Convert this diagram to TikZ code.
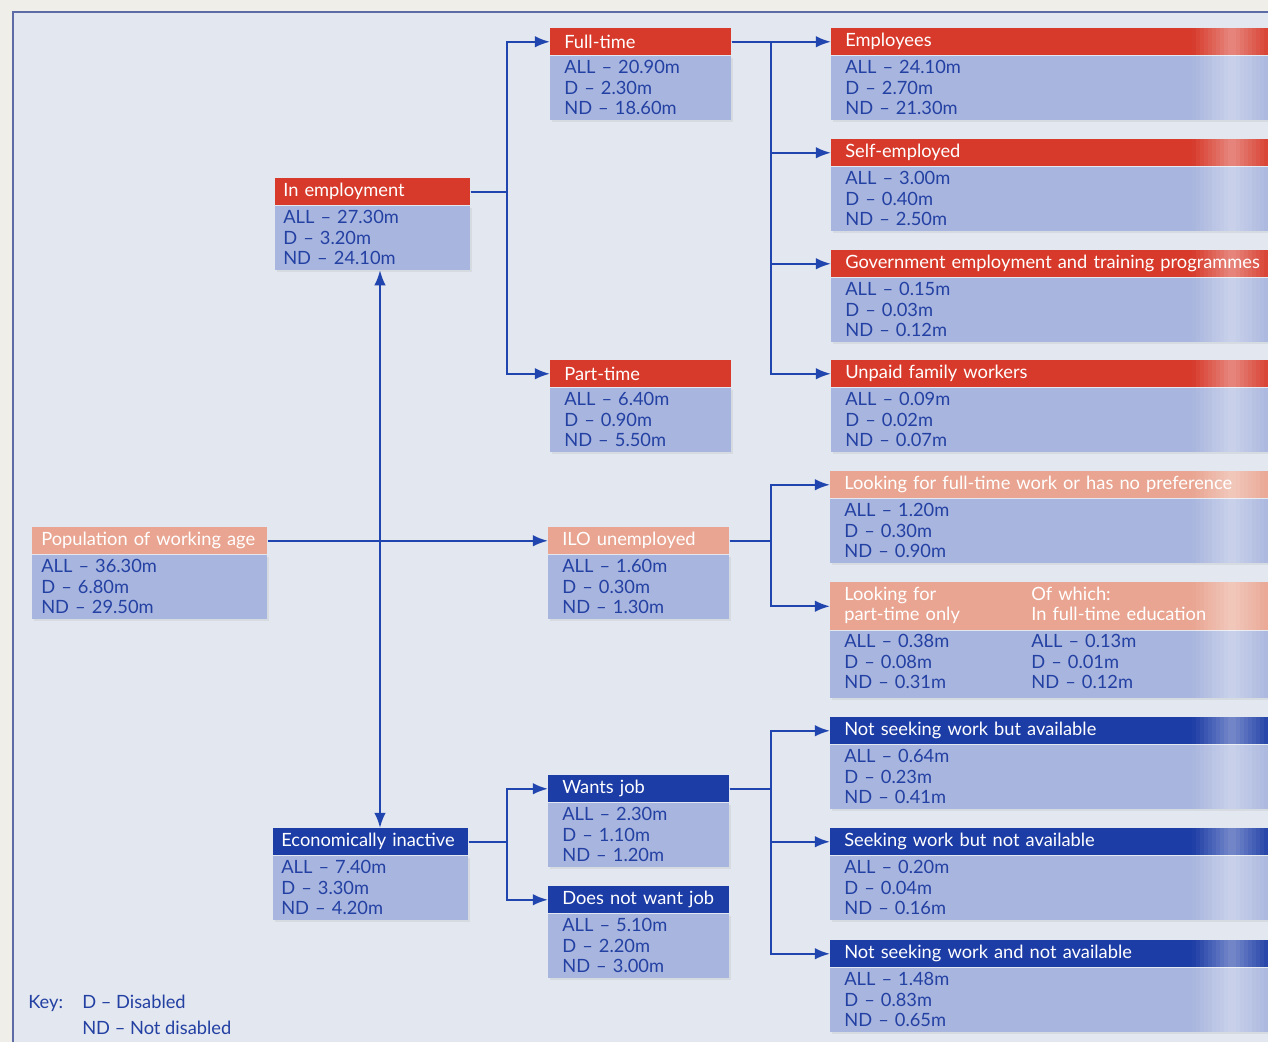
\documentclass[tikz,border=0pt]{standalone}
\usepackage{fontspec}
\setmainfont{Lato}
\usepackage{xcolor}
\usepackage{tikz}
\usetikzlibrary{positioning, arrows.meta, shadows}

\definecolor{pagebg}{HTML}{EFEEE9}
\definecolor{panelbg}{HTML}{E3E7EF}
\definecolor{framecol}{HTML}{5D6BA6}
\definecolor{hdred}{HTML}{D73A2B}
\definecolor{hdsalmon}{HTML}{E9A591}
\definecolor{hdblue}{HTML}{1C3CA6}
\definecolor{bodyblue}{HTML}{A8B5DE}
\definecolor{inkblue}{HTML}{2340A3}
\definecolor{linkblue}{HTML}{2145AE}

\newlength{\unitpx}
\setlength{\unitpx}{0.25mm}

\begin{document}
\begin{tikzpicture}[x=0.25mm, y=-0.25mm, font=\fontsize{13}{14.6}\selectfont]
        \tikzstyle{head} = [rectangle, anchor=north west, inner xsep=14\unitpx, inner ysep=0pt, minimum height=27\unitpx, text=white, align=left]
        \tikzstyle{body} = [rectangle, fill=bodyblue, text=inkblue, inner xsep=14\unitpx, inner ysep=0pt, minimum height=64\unitpx, align=left,
            drop shadow={shadow xshift=0.5mm, shadow yshift=-0.6mm, opacity=0.12}]
        \tikzstyle{colA} = [text width=217\unitpx, inner xsep=9\unitpx]
        \tikzstyle{colB} = [text width=179\unitpx, inner xsep=8\unitpx]
        \tikzstyle{colC} = [text width=153\unitpx]
        \tikzstyle{colD} = [text width=452\unitpx]
        \tikzstyle{link} = [draw=linkblue, line width=0.55mm, -{Latex[length=3.8mm, width=2.9mm]}]
        \tikzstyle{dlink} = [draw=linkblue, line width=0.55mm, {Latex[length=3.8mm, width=2.9mm]}-{Latex[length=3.8mm, width=2.9mm]}]
        \tikzstyle{keytext} = [anchor=base west, inner sep=0pt, text=inkblue]

        \useasboundingbox (0,0) rectangle (1268,1042);
        \clip (0,0) rectangle (1268,1042);
        \fill[pagebg] (0,0) rectangle (1268,1042);
        \fill[panelbg] (13,12) rectangle (1268,1042);
        \draw[framecol, line width=0.3mm] (13,1042) -- (13,12) -- (1268,12);

        % left column
        \node [head, fill=hdsalmon, colA] (pop) at (32,527) {Population of working age};
        \node [body, colA, below=0pt of pop] (pop-b) {ALL -- 36.30m\\D -- 6.80m\\ND -- 29.50m};
        \node [head, fill=hdred, colB] (inemp) at (275,178) {In employment};
        \node [body, colB, below=0pt of inemp] (inemp-b) {ALL -- 27.30m\\D -- 3.20m\\ND -- 24.10m};
        \node [head, fill=hdblue, colB] (inact) at (273,828) {Economically inactive};
        \node [body, colB, below=0pt of inact] (inact-b) {ALL -- 7.40m\\D -- 3.30m\\ND -- 4.20m};

        % middle column
        \node [head, fill=hdred, colC] (ft) at (550,28) {Full-time};
        \node [body, colC, below=0pt of ft] (ft-b) {ALL -- 20.90m\\D -- 2.30m\\ND -- 18.60m};
        \node [head, fill=hdred, colC] (pt) at (550,360) {Part-time};
        \node [body, colC, below=0pt of pt] (pt-b) {ALL -- 6.40m\\D -- 0.90m\\ND -- 5.50m};
        \node [head, fill=hdsalmon, colC] (ilo) at (548,527) {ILO unemployed};
        \node [body, colC, below=0pt of ilo] (ilo-b) {ALL -- 1.60m\\D -- 0.30m\\ND -- 1.30m};
        \node [head, fill=hdblue, colC] (wants) at (548,775) {Wants job};
        \node [body, colC, below=0pt of wants] (wants-b) {ALL -- 2.30m\\D -- 1.10m\\ND -- 1.20m};
        \node [head, fill=hdblue, colC] (dont) at (548,886) {Does not want job};
        \node [body, colC, below=0pt of dont] (dont-b) {ALL -- 5.10m\\D -- 2.20m\\ND -- 3.00m};

        % right column
        \node [head, fill=hdred, colD] (emp) at (831,28) {Employees};
        \node [body, colD, below=0pt of emp] (emp-b) {ALL -- 24.10m\\D -- 2.70m\\ND -- 21.30m};
        \node [head, fill=hdred, colD] (self) at (831,139) {Self-employed};
        \node [body, colD, below=0pt of self] (self-b) {ALL -- 3.00m\\D -- 0.40m\\ND -- 2.50m};
        \node [head, fill=hdred, colD] (govt) at (831,250) {Government employment and training programmes};
        \node [body, colD, below=0pt of govt] (govt-b) {ALL -- 0.15m\\D -- 0.03m\\ND -- 0.12m};
        \node [head, fill=hdred, colD] (unpaid) at (831,360) {Unpaid family workers};
        \node [body, colD, below=0pt of unpaid] (unpaid-b) {ALL -- 0.09m\\D -- 0.02m\\ND -- 0.07m};
        \node [head, fill=hdsalmon, colD] (lookft) at (830,471) {Looking for full-time work or has no preference};
        \node [body, colD, below=0pt of lookft] (lookft-b) {ALL -- 1.20m\\D -- 0.30m\\ND -- 0.90m};
        \node [head, fill=hdsalmon, colD, minimum height=48\unitpx] (lookpt) at (830,582) {%
            \begin{tabular}{@{}p{187\unitpx}@{}l@{}}Looking for & Of which:\\ part-time only & In full-time education\end{tabular}};
        \node [body, colD, below=0pt of lookpt, minimum height=67\unitpx] (lookpt-b) {%
            \begin{tabular}{@{}p{187\unitpx}@{}l@{}}ALL -- 0.38m & ALL -- 0.13m\\ D -- 0.08m & D -- 0.01m\\ ND -- 0.31m & ND -- 0.12m\end{tabular}};
        \node [head, fill=hdblue, colD] (nsa) at (830,717) {Not seeking work but available};
        \node [body, colD, below=0pt of nsa] (nsa-b) {ALL -- 0.64m\\D -- 0.23m\\ND -- 0.41m};
        \node [head, fill=hdblue, colD] (swna) at (830,828) {Seeking work but not available};
        \node [body, colD, below=0pt of swna] (swna-b) {ALL -- 0.20m\\D -- 0.04m\\ND -- 0.16m};
        \node [head, fill=hdblue, colD] (nswna) at (830,940) {Not seeking work and not available};
        \node [body, colD, below=0pt of nswna] (nswna-b) {ALL -- 1.48m\\D -- 0.83m\\ND -- 0.65m};

        % light streak where the page catches the light
        \foreach \n in {emp, self, govt, unpaid, lookft, lookpt, nsa, swna, nswna}
            \foreach \x in {1192,1196,...,1268} {
                \pgfmathsetmacro\op{0.4*max(0,1-abs(\x+2-1232)/40)}
                \coordinate (ga) at (\x,0);
                \coordinate (gb) at (\x+4,0);
                \fill[white, fill opacity=\op] (ga |- \n.north) rectangle (gb |- \n-b.south);
            }

        % key
        \node [keytext] (key) at (28,1008) {Key:};
        \node [keytext] (keyd) at (82,1008) {D -- Disabled};
        \node [keytext] (keynd) at (82,1034) {ND -- Not disabled};

        % connectors
        \coordinate (spine) at (380,541);
        \coordinate (forkA) at (507,0);
        \coordinate (forkB) at (771,0);
        \path [link] (pop.east) -- (pop.east -| ilo.west);
        \path [dlink] (inemp-b.south -| spine) -- (inact.north -| spine);
        \path [link] (inemp.east) -| (forkA |- inemp.east) |- (ft.west);
        \path [link] (inemp.east) -| (forkA |- inemp.east) |- (pt.west);
        \path [link] (ft.east) -- (emp.west);
        \path [link] (ft.east) -| (forkB |- ft.east) |- (self.west);
        \path [link] (ft.east) -| (forkB |- ft.east) |- (govt.west);
        \path [link] (ft.east) -| (forkB |- ft.east) |- (unpaid.west);
        \path [link] (ilo.east) -| (forkB |- ilo.east) |- (lookft.west);
        \path [link] (ilo.east) -| (forkB |- ilo.east) |- (lookpt.west);
        \path [link] (inact.east) -| (forkA |- inact.east) |- (wants.west);
        \path [link] (inact.east) -| (forkA |- inact.east) |- (dont.west);
        \path [link] (wants.east) -| (forkB |- wants.east) |- (nsa.west);
        \path [link] (wants.east) -| (forkB |- wants.east) |- (swna.west);
        \path [link] (wants.east) -| (forkB |- wants.east) |- (nswna.west);
    \end{tikzpicture}
\end{document}
